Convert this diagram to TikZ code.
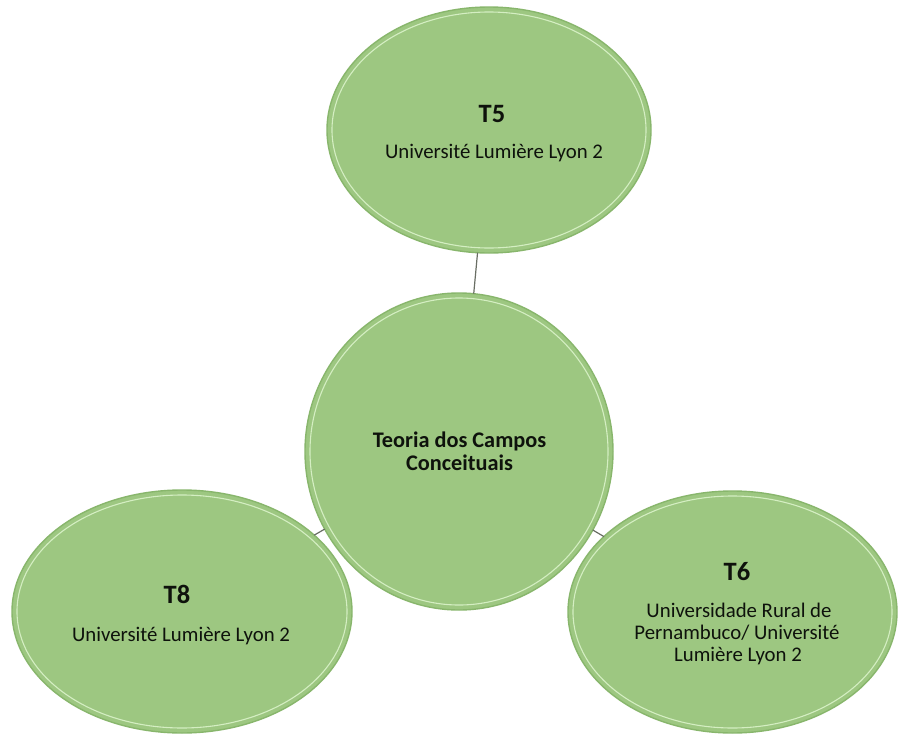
\documentclass[tikz,border=0pt]{standalone}
\usepackage{fontspec}
\setmainfont{Carlito}
\usetikzlibrary{shapes.geometric}
\definecolor{bubfill}{RGB}{157,199,129}
\definecolor{bubrim}{RGB}{136,182,108}
\definecolor{bubline}{RGB}{212,238,194}
\definecolor{conncol}{RGB}{105,110,100}
\definecolor{txtcol}{RGB}{14,18,12}
\tikzset{
  bubble/.style={ellipse, inner sep=0pt, outer sep=0pt, fill=bubfill, draw=bubrim, line width=1.4pt},
  innerline/.style={draw=bubline, line width=1.1pt},
  connector/.style={draw=conncol, line width=1.2pt},
  headtxt/.style={anchor=base, text=txtcol, font=\fontsize{26.5}{30}\selectfont\bfseries},
  subtxt/.style={anchor=base, text=txtcol, font=\fontsize{20.8}{24}\selectfont},
  centretxt/.style={anchor=base, text=txtcol, font=\fontsize{22.3}{26}\selectfont\bfseries}
}
\begin{document}
\begin{tikzpicture}[x=1pt,y=-1pt]
\fill[white] (0,0) rectangle (898,734);
\path[use as bounding box] (0,0) rectangle (898,734);

% bubbles
\node[bubble, minimum width=324pt, minimum height=246pt] (t5) at (489,130) {};
\node[bubble, minimum width=308pt, minimum height=317pt] (c) at (459,451.5) {};
\node[bubble, minimum width=329pt, minimum height=242pt] (t6) at (732.5,612) {};
\node[bubble, minimum width=340pt, minimum height=243pt] (t8) at (182,611.5) {};

% inner highlight rims
\path[innerline] (t5.center) ellipse [x radius=157pt, y radius=118pt];
\path[innerline] (c.center) ellipse [x radius=149pt, y radius=153.5pt];
\path[innerline] (t6.center) ellipse [x radius=159.5pt, y radius=116pt];
\path[innerline] (t8.center) ellipse [x radius=165pt, y radius=116.5pt];

% connectors
\draw[connector] (t5) -- (c);
\draw[connector] (t8) -- (c);
\draw[connector] (c) -- (t6);

% texts
\node[headtxt] (t5h) at (492,122) {T5};
\node[subtxt] (t5u) at (494,158) {Université Lumière Lyon 2};

\node[centretxt] (c1) at (459.5,447) {Teoria dos Campos};
\node[centretxt] (c2) at (459.5,470) {Conceituais};

\node[headtxt] (t6h) at (737,580) {T6};
\node[subtxt] (t6a) at (739,617) {Universidade Rural de};
\node[subtxt] (t6b) at (737,639) {Pernambuco/ Université};
\node[subtxt] (t6c) at (738,661) {Lumière Lyon 2};

\node[headtxt] (t8h) at (177,603) {T8};
\node[subtxt] (t8u) at (181,641) {Université Lumière Lyon 2};
\end{tikzpicture}
\end{document}
